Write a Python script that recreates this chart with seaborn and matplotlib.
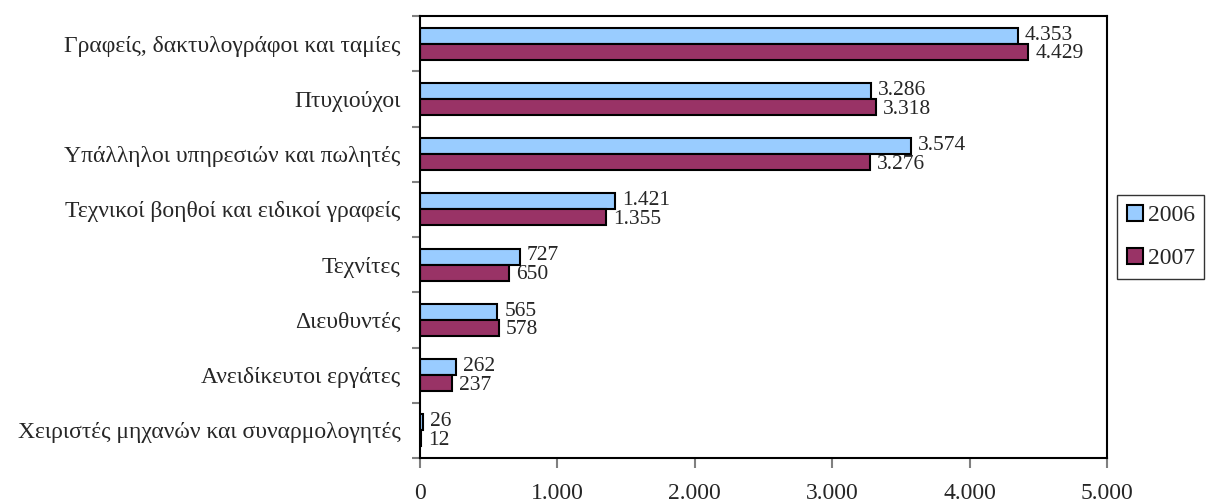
import numpy as np
import pandas as pd
import matplotlib
matplotlib.use('Agg')
import matplotlib.pyplot as plt
import seaborn as sns

categories = [
    'Γραφείς, δακτυλογράφοι και ταμίες',
    'Πτυχιούχοι',
    'Υπάλληλοι υπηρεσιών και πωλητές',
    'Τεχνικοί βοηθοί και ειδικοί γραφείς',
    'Τεχνίτες',
    'Διευθυντές',
    'Ανειδίκευτοι εργάτες',
    'Χειριστές μηχανών και συναρμολογητές',
]
values_2006 = [4353, 3286, 3574, 1421, 727, 565, 262, 26]
values_2007 = [4429, 3318, 3276, 1355, 650, 578, 237, 12]
years = ['2006', '2007']
colors = ['#99CCFF', '#993366']
x_ticks = [0, 1000, 2000, 3000, 4000, 5000]


def greek_fmt(v):
    return f'{int(v):,}'.replace(',', '.')


df = pd.DataFrame({
    'category': categories * 2,
    'value': values_2006 + values_2007,
    'year': [years[0]] * len(categories) + [years[1]] * len(categories),
})

sns.set_style('white')
plt.rcParams['font.family'] = ['Liberation Serif', 'DejaVu Serif']
fs = 17

fig, ax = plt.subplots(figsize=(12.13, 5.03), dpi=100)
fig.subplots_adjust(left=0.346, right=0.9126, top=0.968, bottom=0.0895)

sns.barplot(data=df, y='category', x='value', hue='year', orient='h',
            palette=colors, width=0.58, edgecolor='black', linewidth=1.5,
            saturation=1, ax=ax)

# value labels, the 2007 ones sit a little lower like the original
for cont, dy in zip(ax.containers, [0.5, -1.5]):
    for b in cont:
        w = b.get_width()
        yc = b.get_y() + b.get_height() / 2
        ax.annotate(greek_fmt(w), (w, yc), xytext=(5, dy), textcoords='offset points',
                    ha='left', va='center', fontsize=15.5)

ax.set_xlim(0, 5000)
ax.set_ylim(len(categories) - 0.5, -0.5)
ax.set_xticks(x_ticks)
ax.set_xticklabels([greek_fmt(t) for t in x_ticks], fontsize=fs)
ax.set_yticks(np.arange(len(categories)))
ax.set_yticklabels(categories, fontsize=fs)
ax.set_xlabel('')
ax.set_ylabel('')

# ticks sit on category boundaries
ax.set_yticks(np.arange(len(categories) + 1) - 0.5, minor=True)
ax.tick_params(axis='y', which='major', length=0, pad=14)
ax.tick_params(axis='y', which='minor', length=6, width=1.5, color='#808080', left=True)
ax.tick_params(axis='x', which='major', length=7, width=1.5, color='#808080', bottom=True, pad=11)

for s in ax.spines.values():
    s.set_color('black')
    s.set_linewidth(1.5)

leg = ax.legend(loc='center left', bbox_to_anchor=(1.015, 0.5), fontsize=fs,
                frameon=True, fancybox=False, edgecolor='black',
                handlelength=0.7, handleheight=0.7, handletextpad=0.2,
                labelspacing=0.9, borderpad=0.4, borderaxespad=0)
leg.get_frame().set_linewidth(1.0)

fig.savefig('out.png', dpi=100)
